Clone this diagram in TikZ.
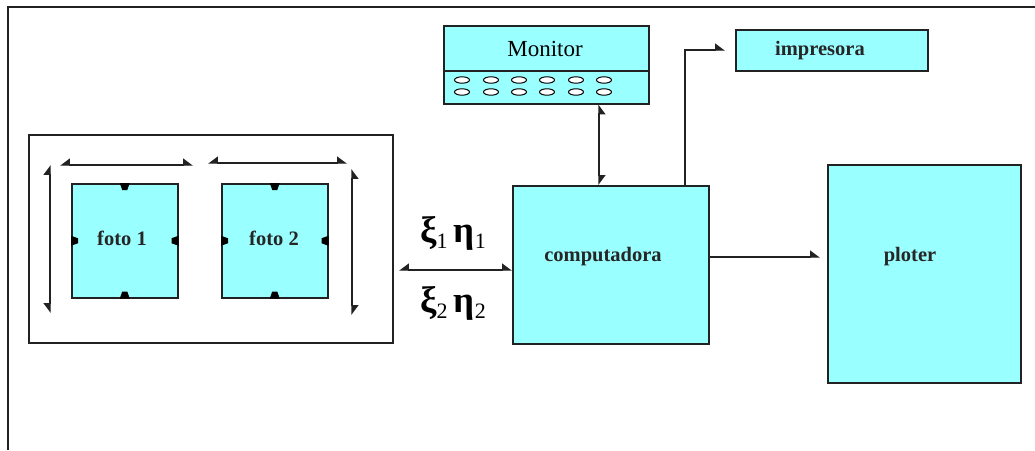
\documentclass[tikz,border=0pt]{standalone}
\usepackage{fontspec}
\setmainfont{Liberation Serif}
\usetikzlibrary{arrows.meta}
\definecolor{cy}{HTML}{99FFFF}
\definecolor{ln}{HTML}{222222}
\newcommand{\gsub}[1]{{\fontsize{22}{22}\mdseries\selectfont\raisebox{-6pt}{#1}}}
\tikzset{
  box/.style={draw=ln, line width=1.5pt, fill=cy, inner sep=0pt, anchor=north west},
  plain/.style={draw=ln, line width=1.5pt, inner sep=0pt, anchor=north west},
  lbl/.style={font=\fontsize{20.5}{21}\selectfont\bfseries, inner sep=0pt, text=black!85},
  con/.style={draw=ln, line width=1.4pt},
  ht/.tip={Triangle[length=9pt,width=13pt,harpoon]},
  hts/.tip={Triangle[length=9pt,width=13pt,harpoon,swap]},
  tk/.style={fill=black, draw=none},
}
\begin{document}
\begin{tikzpicture}[x=1pt,y=-1pt]
\useasboundingbox (0,0) rectangle (1035,450);
% outer frame (cut by the page)
\coordinate (fTL) at (8,7);
\coordinate (fTR) at (1035,7);
\coordinate (fBL) at (8,450);
\draw[draw=ln, line width=1.6pt] (fBL) -- (fTL) -- (fTR);
% photo container
\node[plain, minimum width=364pt, minimum height=208pt] (cont) at (28,134) {};
\node[box, minimum width=106pt, minimum height=114pt] (f1) at (71,183) {};
\node[box, minimum width=106pt, minimum height=114pt] (f2) at (221,183) {};
\node[lbl] (f1t) at (122,238) {foto 1};
\node[lbl] (f2t) at (274,238) {foto 2};
% ticks on photos
\foreach \b in {f1,f2}{
  \fill[tk] ([xshift=-5pt]\b.north) -- ([xshift=5pt]\b.north) -- ([xshift=2.5pt,yshift=-7pt]\b.north) -- ([xshift=-2.5pt,yshift=-7pt]\b.north) -- cycle;
  \fill[tk] ([xshift=-5pt]\b.south) -- ([xshift=5pt]\b.south) -- ([xshift=2.5pt,yshift=7pt]\b.south) -- ([xshift=-2.5pt,yshift=7pt]\b.south) -- cycle;
  \fill[tk] ([yshift=-5pt]\b.west) -- ([yshift=5pt]\b.west) -- ([yshift=2.5pt,xshift=7pt]\b.west) -- ([yshift=-2.5pt,xshift=7pt]\b.west) -- cycle;
  \fill[tk] ([yshift=-5pt]\b.east) -- ([yshift=5pt]\b.east) -- ([yshift=2.5pt,xshift=-7pt]\b.east) -- ([yshift=-2.5pt,xshift=-7pt]\b.east) -- cycle;
}
% dimension arrows
\coordinate (a1) at (60,165); \coordinate (a2) at (193,165);
\coordinate (b1) at (208,163); \coordinate (b2) at (347,163);
\coordinate (c1) at (50,165); \coordinate (c2) at (50,313);
\coordinate (d1) at (352,169); \coordinate (d2) at (352,315);
\draw[con, {hts}-{ht}] (a1) -- (a2);
\draw[con, {hts}-{ht}] (b1) -- (b2);
\draw[con, {ht}-{hts}] (c1) -- (c2);
\draw[con, {hts}-{ht}] (d1) -- (d2);
% computer
\node[box, minimum width=196pt, minimum height=158pt] (comp) at (512,185) {};
\node[lbl] (compt) at (603,257) {computadora};
% link photo - computer
\coordinate (x1) at (399,270);
\draw[con, {hts}-{ht}] (x1) -- (comp.west |- x1);
\node[inner sep=0pt, font=\fontsize{37}{37}\bfseries\selectfont] (g1) at (453,233) {ξ\gsub{1}\,η\gsub{1}};
\node[inner sep=0pt, font=\fontsize{37}{37}\bfseries\selectfont] (g2) at (453,303) {ξ\gsub{2}\,η\gsub{2}};
% monitor
\node[box, minimum width=205pt, minimum height=78pt] (mon) at (443,25) {};
\coordinate (mdl) at (443,71); \coordinate (mdr) at (648,71);
\draw[draw=ln, line width=1.5pt] (mdl) -- (mdr);
\node[inner sep=0pt, font=\fontsize{23}{24}\selectfont] (mont) at (545,49) {Monitor};
\foreach \x in {462,491,519,547,576,604}{
  \foreach \y in {80,92}{
    \draw[draw=black, line width=1pt, fill=white] (\x,\y) ellipse (7.5pt and 3.2pt);
  }
}
\coordinate (mc) at (599,103);
\draw[con, {hts}-{ht}] (mon.south -| mc) -- (comp.north -| mc);
% printer
\node[box, minimum width=192pt, minimum height=41pt] (imp) at (735,29) {};
\node[lbl] (impt) at (820,51) {impresora};
\coordinate (pc) at (685,50);
\draw[con, -{ht}] (comp.north -| pc) -- (pc) -- ([xshift=-10pt]imp.west |- pc);
% plotter
\node[box, minimum width=193pt, minimum height=218pt] (plo) at (827,164) {};
\node[lbl] (plot) at (910,257) {ploter};
\coordinate (pl) at (708,257);
\draw[con, -{ht}] (pl) -- ([xshift=-7pt]plo.west |- pl);
\end{tikzpicture}
\end{document}
